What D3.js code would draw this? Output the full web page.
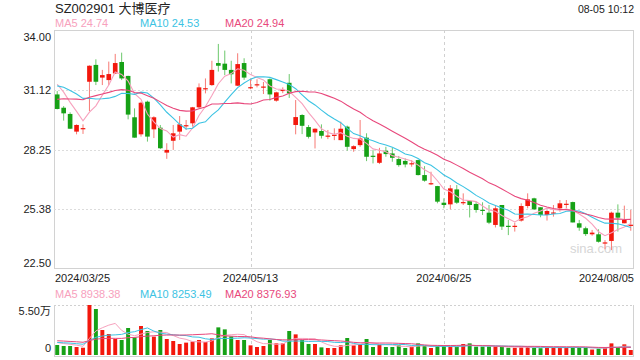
<!DOCTYPE html>
<html><head><meta charset="utf-8">
<script src="https://cdn.jsdelivr.net/npm/d3@7"></script>
<style>body{margin:0;background:#fff;} svg{display:block;font-family:"Liberation Sans",Arial,"Noto Sans CJK SC",sans-serif;}</style>
</head><body><svg id="c" width="640" height="360"></svg>
<script>
const dates = ["03/25","03/26","03/27","03/28","03/29",
"04/01","04/02","04/03","04/08","04/09","04/10","04/11","04/12","04/15","04/16","04/17","04/18","04/19","04/22","04/23","04/24","04/25","04/26","04/29","04/30",
"05/06","05/07","05/08","05/09","05/10","05/13","05/14","05/15","05/16","05/17","05/20","05/21","05/22","05/23","05/24","05/27","05/28","05/29","05/30","05/31",
"06/03","06/04","06/05","06/06","06/07","06/11","06/12","06/13","06/14","06/17","06/18","06/19","06/20","06/21","06/24","06/25","06/26","06/27","06/28",
"07/01","07/02","07/03","07/04","07/05","07/08","07/09","07/10","07/11","07/12","07/15","07/16","07/17","07/18","07/19","07/22","07/23","07/24","07/25","07/26","07/29","07/30","07/31",
"08/01","08/02","08/05"];
const open  = [30.90,30.26,29.96,29.11,29.27,31.51,32.32,31.71,31.59,31.91,32.46,31.79,29.80,28.98,30.55,29.22,29.30,28.10,28.67,29.11,29.39,29.51,30.28,31.18,31.35,32.41,32.38,32.08,31.32,32.41,31.24,31.38,31.27,31.63,30.60,31.11,31.46,29.43,29.91,29.33,29.07,29.14,28.91,28.95,28.70,29.35,28.27,28.46,28.82,27.95,27.61,28.19,28.06,27.79,27.70,27.58,27.74,27.02,26.62,26.49,25.69,25.61,26.33,25.71,25.77,25.63,25.35,25.21,24.62,25.58,24.58,24.57,24.83,25.53,25.90,25.47,25.10,25.21,25.42,25.63,25.72,24.70,24.46,24.17,24.17,23.77,23.85,25.21,24.70,24.62];
const high  = [31.06,30.34,30.04,29.46,29.46,32.30,32.59,32.08,32.48,32.85,32.91,31.80,30.23,30.55,30.60,29.85,29.43,28.55,29.43,29.86,29.67,30.30,31.43,31.67,32.52,33.33,33.01,32.52,32.88,32.64,31.67,31.63,31.50,31.67,31.03,31.24,31.88,30.63,29.95,29.43,29.27,29.46,29.19,29.27,29.59,29.40,28.45,29.67,29.03,28.22,28.33,28.38,28.33,27.94,27.82,27.74,27.76,27.45,27.18,26.50,25.90,26.54,26.54,26.14,25.79,25.74,25.71,25.58,25.58,25.58,24.86,24.73,25.66,26.14,25.93,25.47,25.34,25.58,25.82,25.82,25.74,24.86,24.54,24.38,24.41,23.89,25.26,25.61,25.55,25.34];
const low   = [30.18,29.64,29.24,28.98,29.00,30.10,31.35,31.35,31.35,31.88,31.59,29.70,28.82,28.87,28.63,28.80,28.27,27.80,28.23,28.71,29.19,29.35,30.23,30.95,31.31,32.00,31.83,31.43,31.30,31.60,31.15,31.24,30.92,30.60,30.55,30.96,30.73,28.98,28.99,28.78,28.30,28.78,28.75,28.70,28.70,28.19,28.14,28.38,27.69,27.58,27.55,27.90,27.66,27.42,27.39,27.42,27.00,26.70,26.54,25.66,25.42,25.37,25.63,25.58,24.98,25.21,25.10,24.66,24.50,24.38,24.13,24.30,24.78,25.42,25.34,24.99,24.83,25.02,25.26,25.42,24.74,24.34,24.09,24.10,23.77,23.45,23.41,24.30,24.70,24.34];
const close = [30.20,29.99,29.25,29.43,29.28,32.28,31.51,31.83,31.88,32.41,31.67,29.93,28.82,30.50,28.87,29.80,28.31,28.23,29.03,29.46,29.42,30.28,31.24,31.20,32.08,32.28,32.08,31.87,32.36,31.71,31.25,31.39,31.28,30.90,31.00,31.12,30.95,29.81,29.39,28.86,29.25,28.91,28.92,28.96,29.25,28.38,28.41,28.78,27.90,27.93,28.06,28.03,27.85,27.50,27.53,27.59,27.02,26.75,26.63,25.74,25.58,26.38,25.69,25.72,25.58,25.34,25.33,24.73,25.42,24.54,24.56,24.58,25.53,25.85,25.37,25.10,25.29,25.22,25.66,25.64,24.74,24.49,24.18,24.25,23.81,23.78,25.21,24.97,24.86,24.63];
const volume = [11000,9900,9900,8800,8000,55000,50600,27500,23100,17600,16500,29700,19400,31900,26400,20200,27500,17600,15400,12100,13600,14700,16500,14300,18300,30400,28200,20500,16500,16500,10600,8800,9900,16500,12800,12800,26400,22700,16500,12100,12100,
8400,7700,7700,10600,18700,10600,11400,17600,8800,11400,8800,8800,10600,7700,9200,12800,9900,7700,9900,9900,9200,9200,12100,12800,9200,9200,9200,9200,9200,8000,8000,8500,9000,8000,7500,8000,8500,8500,8000,9000,8500,8000,6000,7000,8000,12800,8800,11700,5500];
// closes / volumes before the visible window (only used to seed the moving averages)
const priorCloses = [29.3,29.5,29.6,29.8,29.9,30.0,30.2,30.4,30.6,30.8,30.6,30.9,31.1,31.34,32.21,31.9,31.7,31.6,31.55];
const priorVolumes = [17000,18000,16000,19000,17500,18500,16500,17000,18000,17500,14000,13500,15000,14500,13000,15500,14000,13500,14500];

const priceTicks = [34.00, 31.12, 28.25, 25.38, 22.50];
const priceTickLabels = ["34.00","31.12","28.25","25.38","22.50"];
const dateTickIdx = ["03/25","05/13","06/25","08/05"];
const dateTickLabels = ["2024/03/25","2024/05/13","2024/06/25","2024/08/05"];
const title = "SZ002901 大博医疗";
const timeLabel = "08-05 10:12";
const maNames = ["MA5","MA10","MA20"];
const maPeriods = [5,10,20];
const maColors = ["#f7a1bd","#3cc3e3","#e8487c"];
const priceLegendValues = ["24.74","24.53","24.94"];
const volLegendValues = ["8938.38","8253.49","8376.93"];
const volTickLabels = ["5.50万","0"];
const volMax = 55000;

const UP = "#f3170c", DOWN = "#16a116";
const UPW = "#f77a74", DOWNW = "#6cc86c";

const svg = d3.select("#c");
const L = 54, R = 634, T = 30, B = 269;
const VT = 305, VB = 355;

const x = d3.scaleBand().domain(dates).range([L, R]).paddingInner(0.28).paddingOuter(0.14);
const bw = x.bandwidth();
const cx = d => x(d) + bw/2;
const y = d3.scaleLinear().domain([22.5, 34]).range([B, T]);
const yv = d3.scaleLinear().domain([0, volMax]).range([VB, VT]);

const rows = dates.map((d,i)=>({d, o:open[i], h:high[i], l:low[i], c:close[i], v:volume[i]}));

function ma(series, prior, n){
  const all = prior.concat(series);
  const off = prior.length;
  return series.map((_,i)=>{
    const j = i + off;
    const s = all.slice(Math.max(0, j-n+1), j+1);
    return d3.mean(s);
  });
}

// frame
const g = svg.append("g");
g.append("rect").attr("x",L+0.5).attr("y",T+0.5).attr("width",R-L-1).attr("height",B-T-1)
  .attr("fill","none").attr("stroke","#d2d2d2");
// horizontal grid
g.selectAll(".hg").data(priceTicks.slice(1,4)).join("line")
  .attr("x1",L).attr("x2",R).attr("y1",d=>Math.round(y(d))+0.5).attr("y2",d=>Math.round(y(d))+0.5)
  .attr("stroke","#dcdcdc").attr("stroke-dasharray","2,2");
// vertical grid
const vgIdx = dateTickIdx.slice(1,3);
g.selectAll(".vg").data(vgIdx).join("line")
  .attr("x1",d=>Math.round(cx(d))+0.5).attr("x2",d=>Math.round(cx(d))+0.5).attr("y1",T).attr("y2",B)
  .attr("stroke","#d0d0d0").attr("stroke-dasharray","3,3");

// watermark
svg.append("text").attr("x",R-12).attr("y",253).attr("text-anchor","end")
  .attr("font-size",13).attr("fill","#d6d6d6").text("sina.com");

// candles
const cg = svg.append("g");
cg.selectAll(".w").data(rows).join("line")
  .attr("x1",d=>cx(d.d)).attr("x2",d=>cx(d.d))
  .attr("y1",d=>y(d.h)).attr("y2",d=>y(d.l))
  .attr("stroke",d=>d.c>=d.o?UPW:DOWNW).attr("stroke-width",1);
cg.selectAll(".b").data(rows).join("rect")
  .attr("x",d=>x(d.d)).attr("width",bw)
  .attr("y",d=>y(Math.max(d.o,d.c)))
  .attr("height",d=>Math.max(1.2, Math.abs(y(d.o)-y(d.c))))
  .attr("fill",d=>d.c>=d.o?UP:DOWN);

// MA lines
const line = d3.line().x((v,i)=>cx(dates[i])).y(v=>y(v));
maPeriods.forEach((n,k)=>{
  svg.append("path").datum(ma(close, priorCloses, n)).attr("d",line)
    .attr("fill","none").attr("stroke",maColors[k]).attr("stroke-width",1.1);
});

// y axis labels
const yAxis = d3.axisLeft(y).tickValues(priceTicks).tickFormat((d,i)=>priceTickLabels[i]).tickSize(0).tickPadding(3);
const ya = svg.append("g").attr("transform",`translate(${L},0)`).call(yAxis);
ya.select(".domain").remove();
ya.selectAll("text").attr("font-size",11).attr("fill","#222").attr("font-family","'Liberation Sans',Arial,sans-serif")
  .attr("dy",(d,i)=> i===0 ? "0.95em" : (i===priceTicks.length-1 ? "-0.2em" : "0.32em"));

// date labels
svg.selectAll(".dt").data(dateTickIdx).join("text")
  .attr("x",(d,i)=> i===0 ? L+1 : (i===dateTickIdx.length-1 ? R : cx(d)))
  .attr("y",282)
  .attr("text-anchor",(d,i)=> i===0 ? "start" : (i===dateTickIdx.length-1 ? "end" : "middle"))
  .attr("font-size",11).attr("fill","#222").text((d,i)=>dateTickLabels[i]);

// title & time
svg.append("text").attr("x",55).attr("y",13).attr("font-size",13).attr("fill","#222").text(title);
svg.append("text").attr("x",R).attr("y",13).attr("text-anchor","end").attr("font-size",10.5).attr("fill","#222").text(timeLabel);

// legends
const legX = [55,140,225];
maNames.forEach((nm,k)=>{
  svg.append("text").attr("x",legX[k]).attr("y",27).attr("font-size",11).attr("fill",maColors[k]).text(nm+" "+priceLegendValues[k]);
  svg.append("text").attr("x",legX[k]).attr("y",298).attr("font-size",11).attr("fill",maColors[k]).text(nm+" "+volLegendValues[k]);
});

// volume panel frame
svg.append("line").attr("x1",L).attr("x2",R).attr("y1",VT+0.5).attr("y2",VT+0.5).attr("stroke","#d0d0d0").attr("stroke-dasharray","2,2");
svg.append("line").attr("x1",L+0.5).attr("x2",L+0.5).attr("y1",VT).attr("y2",VB+1).attr("stroke","#d2d2d2");
svg.append("line").attr("x1",R-0.5).attr("x2",R-0.5).attr("y1",VT).attr("y2",VB+1).attr("stroke","#d2d2d2");
svg.append("line").attr("x1",L).attr("x2",R).attr("y1",VB+1.5).attr("y2",VB+1.5).attr("stroke","#d2d2d2");
svg.selectAll(".vvg").data(vgIdx).join("line")
  .attr("x1",d=>Math.round(cx(d))+0.5).attr("x2",d=>Math.round(cx(d))+0.5).attr("y1",VT).attr("y2",VB)
  .attr("stroke","#d0d0d0").attr("stroke-dasharray","3,3");

// volume bars
const vbw = bw*0.85;
svg.append("g").selectAll("rect").data(rows).join("rect")
  .attr("x",d=>cx(d.d)-vbw/2).attr("width",vbw)
  .attr("y",d=>yv(d.v)).attr("height",d=>VB-yv(d.v))
  .attr("fill",d=>d.c>=d.o?UP:DOWN);

// volume MA
const vline = d3.line().x((v,i)=>cx(dates[i])).y(v=>yv(v));
maPeriods.forEach((n,k)=>{
  svg.append("path").datum(ma(volume, priorVolumes, n)).attr("d",vline)
    .attr("fill","none").attr("stroke",maColors[k]).attr("stroke-width",1);
});

// volume labels
svg.append("text").attr("x",51).attr("y",VT+6).attr("dy","0.32em").attr("text-anchor","end").attr("font-size",11).attr("fill","#222").text(volTickLabels[0]);
svg.append("text").attr("x",51).attr("y",348).attr("dy","0.32em").attr("text-anchor","end").attr("font-size",11).attr("fill","#222").text(volTickLabels[1]);
</script></body></html>
